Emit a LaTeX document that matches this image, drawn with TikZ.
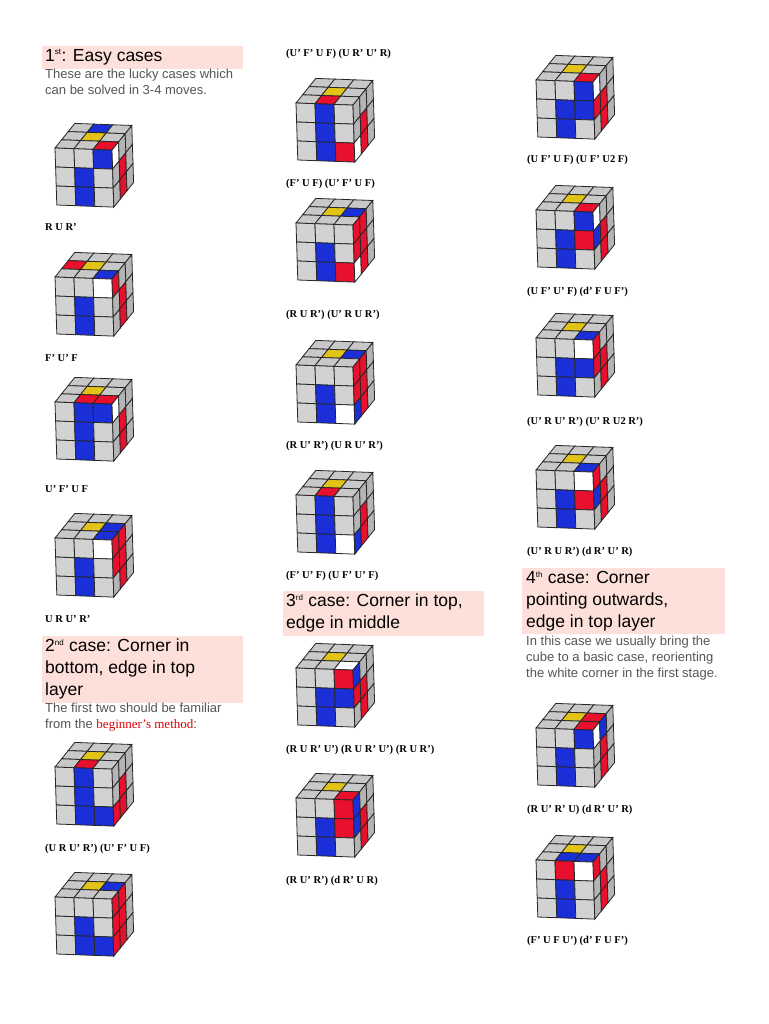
\documentclass[tikz,border=0pt]{standalone}
\usepackage{fontspec}
\setmainfont{Liberation Serif}
\newfontfamily\hsans{Liberation Sans}
\definecolor{headbg}{HTML}{FDE0DA}
\definecolor{bodygray}{HTML}{555555}
\definecolor{Fg}{HTML}{D2D2D2}\definecolor{Tg}{HTML}{C8C8C8}\definecolor{Rg}{HTML}{B4B4B4}
\definecolor{Fb}{HTML}{1A2FD8}\definecolor{Fr}{HTML}{E8102C}\definecolor{Fy}{HTML}{E2C418}\definecolor{Fw}{HTML}{FFFFFF}
\colorlet{Tb}{Fb}\colorlet{Tr}{Fr}\colorlet{Ty}{Fy}\colorlet{Tw}{Fw}
\colorlet{Rb}{Fb}\colorlet{Rr}{Fr}\colorlet{Ry}{Fy}\colorlet{Rw}{Fw}
\def\ax{19}\def\ay{0.7}\def\dx{0.6}\def\dy{19}\def\ex{6.6}\def\ey{-8.2}
\newcommand\rcube[5]{%
\begin{scope}[shift={(#1+3,#2+25)},line width=0.8pt,draw=black!85]
\foreach \c [count=\i from 0] in {#3}{%
 \pgfmathtruncatemacro\rr{int(\i/3)}\pgfmathtruncatemacro\cc{mod(\i,3)}\pgfmathtruncatemacro\kk{2-\rr}%
 \filldraw[fill=T\c] (\cc*\ax+\kk*\ex,\cc*\ay+\kk*\ey) -- ++(\ax,\ay) -- ++(\ex,\ey) -- ++(-\ax,-\ay) -- cycle;}
\foreach \c [count=\i from 0] in {#4}{%
 \pgfmathtruncatemacro\rr{int(\i/3)}\pgfmathtruncatemacro\cc{mod(\i,3)}%
 \filldraw[fill=F\c] (\cc*\ax+\rr*\dx,\cc*\ay+\rr*\dy) -- ++(\ax,\ay) -- ++(\dx,\dy) -- ++(-\ax,-\ay) -- cycle;}
\foreach \c [count=\i from 0] in {#5}{%
 \pgfmathtruncatemacro\rr{int(\i/3)}\pgfmathtruncatemacro\cc{mod(\i,3)}%
 \filldraw[fill=R\c] (3*\ax+\cc*\ex+\rr*\dx,3*\ay+\cc*\ey+\rr*\dy) -- ++(\ex,\ey) -- ++(\dx,\dy) -- ++(-\ex,-\ey) -- cycle;}
\end{scope}}
\tikzset{
 lab/.style={anchor=base west,inner sep=0pt,font=\fontsize{10.5}{11}\selectfont\bfseries},
 head/.style={anchor=north west,inner sep=0pt,font=\hsans\fontsize{17.5}{22}\selectfont,align=left},
 body/.style={anchor=north west,inner sep=0pt,font=\hsans\fontsize{13}{16}\selectfont,text=bodygray,align=left},
 hbox/.style={fill=headbg,draw=none}}
\begin{document}
\begin{tikzpicture}[x=1pt,y=-1pt]
\useasboundingbox (0,0) rectangle (768,1024);
\fill[white] (0,0) rectangle (768,1024);
% heading boxes
\fill[hbox] (42,46) rectangle (243,69);
\fill[hbox] (42,636) rectangle (243,703);
\fill[hbox] (283,591) rectangle (484,636);
\fill[hbox] (522,568) rectangle (725,634);
\node[head] (h1) at (45,49) {1\textsuperscript{\fontsize{8}{8}\selectfont st}: Easy cases};
\node[body] (b1) at (45,69) {These are the lucky cases which\\can be solved in 3-4 moves.};
\node[head] (h2) at (45,639) {2\textsuperscript{\fontsize{8}{8}\selectfont nd} case: Corner in\\bottom, edge in top\\layer};
\node[body] (b2) at (45,703) {The first two should be familiar\\from the {\rmfamily\color{red!85!black}beginner's method}:};
\node[head] (h3) at (286,594) {3\textsuperscript{\fontsize{8}{8}\selectfont rd} case: Corner in top,\\edge in middle};
\node[head] (h4) at (526,571) {4\textsuperscript{\fontsize{8}{8}\selectfont th} case: Corner\\pointing outwards,\\edge in top layer};
\node[body] (b4) at (526,636) {In this case we usually bring the\\cube to a basic case, reorienting\\the white corner in the first stage.};
% column 1
\rcube{52}{123}{g,b,g,g,y,g,g,g,r}{g,g,b,g,b,g,g,b,g}{w,g,g,g,r,g,g,r,g}
\node[lab] (l1) at (45,231) {R U R'};
\rcube{52}{252}{g,g,g,r,y,g,g,g,b}{g,g,w,g,b,g,g,b,g}{r,g,g,g,r,g,g,r,g}
\node[lab] (l2) at (45,361) {F' U' F};
\rcube{52}{377}{g,g,g,g,y,g,g,r,r}{g,b,b,g,b,g,g,b,g}{w,g,g,g,r,g,g,r,g}
\node[lab] (l3) at (45,492) {U' F' U F};
\rcube{52}{513}{g,g,g,g,y,b,g,g,b}{g,g,w,g,b,g,g,b,g}{r,r,g,r,r,g,g,r,g}
\node[lab] (l4) at (45,622) {U R U' R'};
\rcube{52}{742}{g,g,g,g,y,g,g,r,g}{g,b,g,g,b,g,g,b,b}{g,g,g,g,r,g,r,r,g}
\node[lab] (l5) at (45,851) {(U R U' R') (U' F' U F)};
\rcube{52}{872}{g,g,g,g,y,b,g,g,g}{g,g,g,g,b,g,g,b,b}{r,r,g,r,r,g,r,r,g}
% column 2
\node[lab] (m0) at (286,57) {(U' F' U F) (U R' U' R)};
\rcube{293}{78}{g,g,g,g,y,g,g,r,g}{g,b,g,g,b,g,g,b,r}{g,g,g,g,r,g,w,r,g}
\node[lab] (m1) at (286,187) {(F' U F) (U' F' U F)};
\rcube{293}{198}{g,g,g,g,y,b,g,g,g}{g,g,g,g,b,g,g,b,r}{r,r,g,r,r,g,w,r,g}
\node[lab] (m2) at (286,317) {(R U R') (U' R U R')};
\rcube{293}{340}{g,g,g,g,y,b,g,g,g}{g,g,g,g,b,g,g,b,w}{r,r,g,r,r,g,b,r,g}
\node[lab] (m3) at (286,448) {(R U' R') (U R U' R')};
\rcube{293}{470}{g,g,g,g,y,g,g,r,g}{g,b,g,g,b,g,g,b,w}{g,g,g,g,r,g,b,r,g}
\node[lab] (m4) at (286,578) {(F' U' F) (U F' U' F)};
\rcube{293}{643}{g,g,g,g,y,g,g,g,w}{g,g,r,g,b,b,g,b,g}{b,g,g,r,r,g,g,r,g}
\node[lab] (m5) at (286,752) {(R U R' U') (R U R' U') (R U R')};
\rcube{293}{773}{g,g,g,g,y,g,g,g,r}{g,g,r,g,b,r,g,b,g}{b,g,g,b,r,g,g,r,g}
\node[lab] (m6) at (286,883) {(R U' R') (d R' U R)};
% column 3
\rcube{533}{55}{g,g,g,g,y,g,g,g,r}{g,g,b,g,b,b,g,b,g}{w,g,g,r,r,g,g,r,g}
\node[lab] (n1) at (527,163) {(U F' U F) (U F' U2 F)};
\rcube{533}{185}{g,g,g,g,y,g,g,g,r}{g,g,b,g,b,r,g,b,g}{w,g,g,b,r,g,g,r,g}
\node[lab] (n2) at (527,294) {(U F' U' F) (d' F U F')};
\rcube{533}{313}{g,g,g,g,y,g,g,g,b}{g,g,w,g,b,b,g,b,g}{r,g,g,r,r,g,g,r,g}
\node[lab] (n3) at (527,424) {(U' R U' R') (U' R U2 R')};
\rcube{533}{445}{g,g,g,g,y,g,g,g,b}{g,g,w,g,b,r,g,b,g}{r,g,g,b,r,g,g,r,g}
\node[lab] (n4) at (527,554) {(U' R U R') (d R' U' R)};
\rcube{533}{703}{g,g,g,g,y,r,g,g,r}{g,g,b,g,b,g,g,b,g}{w,b,g,g,r,g,g,r,g}
\node[lab] (n5) at (527,812) {(R U' R' U) (d R' U' R)};
\rcube{533}{835}{g,g,g,g,y,g,g,b,b}{g,r,w,g,b,g,g,b,g}{r,g,g,g,r,g,g,r,g}
\node[lab] (n6) at (527,943) {(F' U F U') (d' F U F')};
\end{tikzpicture}
\end{document}
